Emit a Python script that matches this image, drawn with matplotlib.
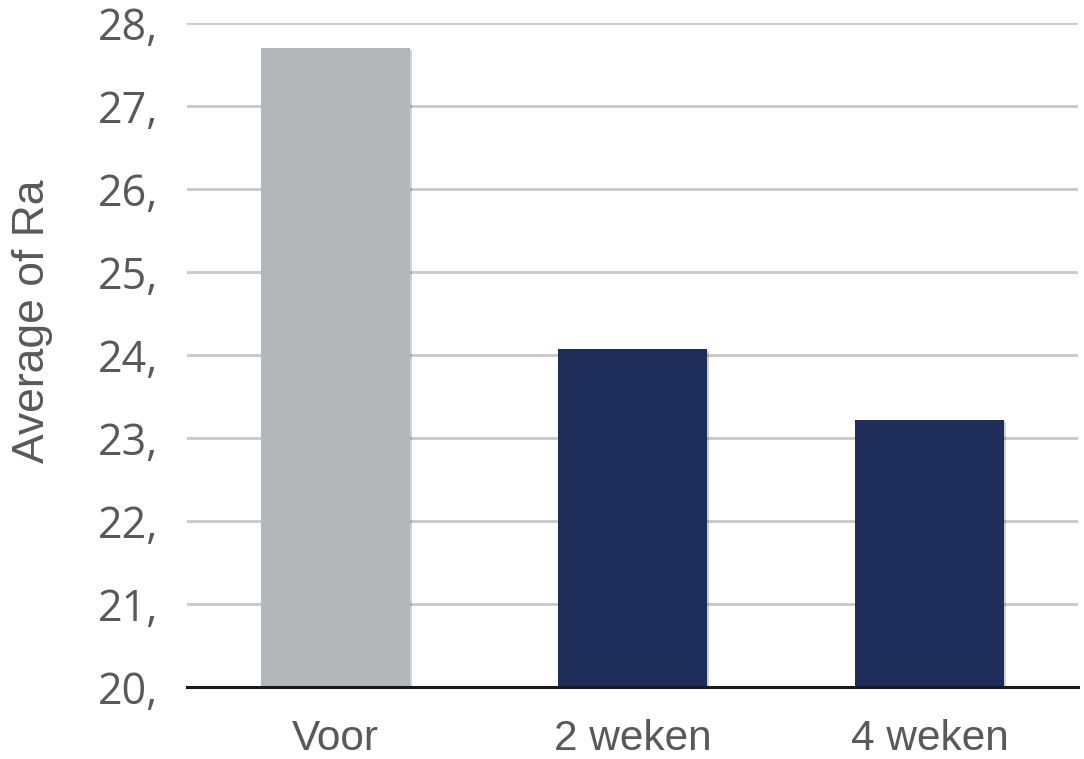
import numpy as np
from matplotlib import pyplot as plt
import matplotlib.patheffects as pe

categories = ["Voor", "2 weken", "4 weken"]
values = [27.70, 24.07, 23.22]
bar_colors = ["#b5b6b9", "#1e2d5a", "#1e2d5a"]
yticks = [20, 21, 22, 23, 24, 25, 26, 27, 28]
ytick_labels = ["20,", "21,", "22,", "23,", "24,", "25,", "26,", "27,", "28,"]

fig = plt.figure(figsize=(10.84, 7.59), dpi=100)
ax = fig.add_axes([187 / 1084, 1 - 687 / 759, (1078 - 187) / 1084, (687 - 23) / 759])

x = np.arange(len(categories))
bars = ax.bar(x, np.array(values) - 20, bottom=20, width=0.5, color=bar_colors, zorder=3)
for b in bars:
    b.set_path_effects([pe.SimplePatchShadow(offset=(1.5, -1.5), shadow_rgbFace="#000000", alpha=0.18), pe.Normal()])

ax.set_xlim(-0.5, 2.5)
ax.set_ylim(20, 28)
ax.set_yticks(yticks)
ax.set_yticklabels(ytick_labels, family="Open Sans", fontsize=31, color="#595959")
ax.set_xticks(x)
ax.set_xticklabels(categories, family="Liberation Sans", fontsize=30.5, color="#595959")
ax.tick_params(axis="both", length=0)
ax.tick_params(axis="y", pad=21)
ax.tick_params(axis="x", pad=23)

ax.grid(axis="y", color="#c9c9c9", linewidth=2, zorder=0)
for s in ["top", "right", "left"]:
    ax.spines[s].set_visible(False)
ax.spines["bottom"].set_color("#1a1a1a")
ax.spines["bottom"].set_linewidth(2.2)
ax.spines["bottom"].set_zorder(4)

ax.set_ylabel("Average of Ra", family="Liberation Sans", fontsize=32, color="#595959")
ax.yaxis.set_label_coords(-0.150, 0.551)

plt.savefig("out.png", dpi=100)
